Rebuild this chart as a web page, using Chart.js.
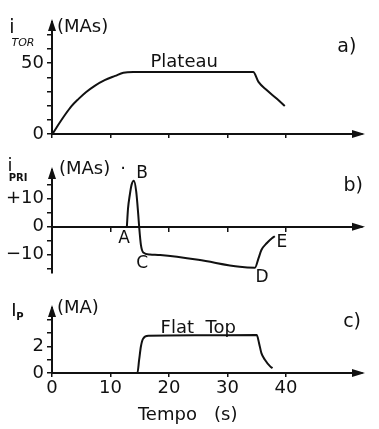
<!DOCTYPE html>
<html>
<head>
<meta charset="utf-8">
<script src="https://cdn.jsdelivr.net/npm/chart.js@4.4.0/dist/chart.umd.min.js"></script>
<style>
  html, body { margin: 0; padding: 0; background: #fff; }
  #wrap { position: relative; width: 379px; height: 429px; }
  .panel { position: absolute; left: 0; width: 379px; }
</style>
</head>
<body>
<div id="wrap">
  <div class="panel" style="top:280px;height:149px"><canvas id="chartC"></canvas></div>
  <div class="panel" style="top:0;height:150px"><canvas id="chartA"></canvas></div>
  <div class="panel" style="top:150px;height:142px"><canvas id="chartB"></canvas></div>
</div>
<script>
// a) toroidal current i_TOR (MAs)
const tTor = [0, 0.3, 1, 2.2, 3.3, 4.5, 5.8, 7.3, 9, 10.8, 12.2, 13.9, 20, 28, 34.4, 35.3, 36.7, 38.4, 39.8];
const iTor = [0, 1.5, 6, 13.4, 19.5, 24.6, 29.5, 34, 38, 41, 43.2, 43.7, 43.7, 43.7, 43.7, 36.8, 31, 25, 19.7];

// b) primary current i_PRI (MAs)
const tPri = [12.8, 13.0, 13.3, 13.6, 14.0, 14.4, 14.75, 14.9, 15.2, 15.6, 16.75, 18.5, 25, 32.1, 34.7, 35.3, 35.8, 36.7, 37.6, 38.1];
const iPri = [0, 6.5, 11.3, 14.9, 16.4, 12.5, 4.2, 0, -6.5, -9.2, -9.9, -10.1, -11.8, -14.3, -14.6, -11.3, -8.3, -5.9, -4.1, -3.4];

// c) plasma current I_p (MA)
const tIp = [0, 14.6, 14.9, 15.2, 15.6, 16.5, 25, 35.0, 35.4, 35.8, 36.4, 37.3, 37.7];
const ip = [0, 0, 1.0, 2.0, 2.6, 2.8, 2.84, 2.87, 2.25, 1.5, 1.0, 0.5, 0.37];

const xTicks = [0, 10, 20, 30, 40];
const xTickLabels = ['0', '10', '20', '30', '40'];
const yTicksA = [0, 10, 20, 30, 40, 50, 60, 70];
const yLabelsA = { 0: '0', 50: '50' };
const yTicksB = [-15, -10, -5, 0, 5, 10, 15];
const yLabelsB = { '-10': '\u221210', 0: '0', 10: '+10' };
const yTicksC = [0, 1, 2, 3, 4];
const yLabelsC = { 0: '0', 2: '2' };

const FONT = '"DejaVu Sans", sans-serif';
const INK = '#111';

function toPoints(xs, ys) {
  return xs.map((x, i) => ({ x: x, y: ys[i] }));
}

// arrows, axis symbols and in-plot words
const decor = {
  id: 'decor',
  afterDraw(chart, args, opts) {
    const { ctx, chartArea, scales } = chart;
    const left = chartArea.left, top = chartArea.top, right = chartArea.right;
    const y0 = scales.y.getPixelForValue(0);
    ctx.save();
    ctx.fillStyle = INK;
    // y arrow
    ctx.beginPath();
    ctx.moveTo(left, top - 3);
    ctx.lineTo(left - 4, top + 9);
    ctx.lineTo(left + 4, top + 9);
    ctx.closePath();
    ctx.fill();
    // x arrow
    ctx.beginPath();
    ctx.moveTo(right + 3, y0);
    ctx.lineTo(right - 10, y0 - 4);
    ctx.lineTo(right - 10, y0 + 4);
    ctx.closePath();
    ctx.fill();

    ctx.textBaseline = 'middle';
    (opts.texts || []).forEach(tx => {
      ctx.font = tx.font || ('18px ' + FONT);
      const px = tx.t !== undefined ? scales.x.getPixelForValue(tx.t) : tx.px;
      const py = tx.v !== undefined ? scales.y.getPixelForValue(tx.v) : tx.py;
      ctx.textAlign = tx.align || 'center';
      ctx.fillText(tx.text, px, py);
    });
    ctx.restore();
  }
};

function makeChart(id, xs, ys, cfg) {
  return new Chart(document.getElementById(id), {
    type: 'line',
    data: {
      datasets: [{
        data: toPoints(xs, ys),
        borderColor: INK,
        borderWidth: 2,
        pointRadius: 0,
        cubicInterpolationMode: 'monotone',
        fill: false
      }]
    },
    options: {
      responsive: true,
      maintainAspectRatio: false,
      animation: false,
      layout: { padding: { top: cfg.padTop, right: 17, bottom: cfg.padBottom, left: 0 } },
      plugins: {
        legend: { display: false },
        tooltip: { enabled: false },
        decor: { texts: cfg.texts }
      },
      scales: {
        x: {
          type: 'linear',
          position: cfg.xPos,
          min: 0,
          max: 53,
          afterBuildTicks: s => { s.ticks = xTicks.map(v => ({ value: v })); },
          afterFit: s => { s.height = cfg.xHeight; s.paddingLeft = 0; s.paddingRight = 0; },
          border: { display: true, color: INK, width: 2 },
          grid: { display: true, drawOnChartArea: false, drawTicks: true, tickLength: 4, color: INK, lineWidth: 1.5 },
          ticks: {
            display: cfg.showX,
            autoSkip: false,
            padding: 1,
            color: INK,
            font: { family: FONT, size: 18 },
            maxRotation: 0,
            callback: v => xTickLabels[xTicks.indexOf(v)]
          }
        },
        y: {
          min: cfg.yMin,
          max: cfg.yMax,
          afterBuildTicks: s => { s.ticks = cfg.yTicks.map(v => ({ value: v })); },
          afterFit: s => { s.width = 52; s.paddingTop = 0; s.paddingBottom = 0; },
          border: { display: true, color: INK, width: 2 },
          grid: { display: true, drawOnChartArea: false, drawTicks: true, tickLength: 5, color: INK, lineWidth: 1.5 },
          ticks: {
            autoSkip: false,
            padding: 3,
            color: INK,
            font: { family: FONT, size: 18 },
            callback: v => cfg.yLabels[v] !== undefined ? cfg.yLabels[v] : ''
          }
        }
      }
    },
    plugins: [decor]
  });
}

makeChart('chartA', tTor, iTor, {
  padTop: 22, padBottom: 0, xHeight: 16, xPos: 'bottom', showX: false,
  yMin: 0, yMax: 79, yTicks: yTicksA, yLabels: yLabelsA,
  texts: [
    { text: 'i', px: 12, py: 28, font: '19px ' + FONT },
    { text: 'TOR', px: 23, py: 43, font: 'italic 11px ' + FONT },
    { text: '(MAs)', px: 57, py: 27, align: 'left' },
    { text: 'Plateau', t: 22.6, v: 50.7 },
    { text: 'a)', t: 50.4, v: 61.3, font: '19px ' + FONT }
  ]
});

makeChart('chartB', tPri, iPri, {
  padTop: 20, padBottom: 19, xHeight: 0, xPos: { y: 0 }, showX: false,
  yMin: -16.5, yMax: 20.2, yTicks: yTicksB, yLabels: yLabelsB,
  texts: [
    { text: 'i', px: 10, py: 16, font: '18px ' + FONT },
    { text: 'PRI', px: 18, py: 28, font: 'bold 10px ' + FONT },
    { text: '(MAs)', px: 59, py: 19, align: 'left' },
    { text: '\u00b7', px: 123, py: 19 },
    { text: 'B', t: 15.4, v: 18.8, font: '17px ' + FONT },
    { text: 'A', t: 12.3, v: -4.4, font: '17px ' + FONT },
    { text: 'C', t: 15.4, v: -13, font: '17px ' + FONT },
    { text: 'D', t: 35.9, v: -18, font: '17px ' + FONT },
    { text: 'E', t: 39.3, v: -5.8, font: '17px ' + FONT },
    { text: 'b)', t: 51.5, v: 14.5, font: '19px ' + FONT }
  ]
});

makeChart('chartC', tIp, ip, {
  padTop: 28, padBottom: 0, xHeight: 56, xPos: 'bottom', showX: true,
  yMin: 0, yMax: 4.9, yTicks: yTicksC, yLabels: yLabelsC,
  texts: [
    { text: 'I', px: 14, py: 31, font: '18px ' + FONT },
    { text: 'P', px: 20, py: 37, font: 'bold 10px ' + FONT },
    { text: '(MA)', px: 57, py: 28, align: 'left' },
    { text: 'Flat  Top', t: 25, v: 3.4 },
    { text: 'c)', t: 51.3, v: 3.85, font: '19px ' + FONT },
    { text: 'Tempo   (s)', t: 23.2, py: 135 }
  ]
});
</script>
</body>
</html>
